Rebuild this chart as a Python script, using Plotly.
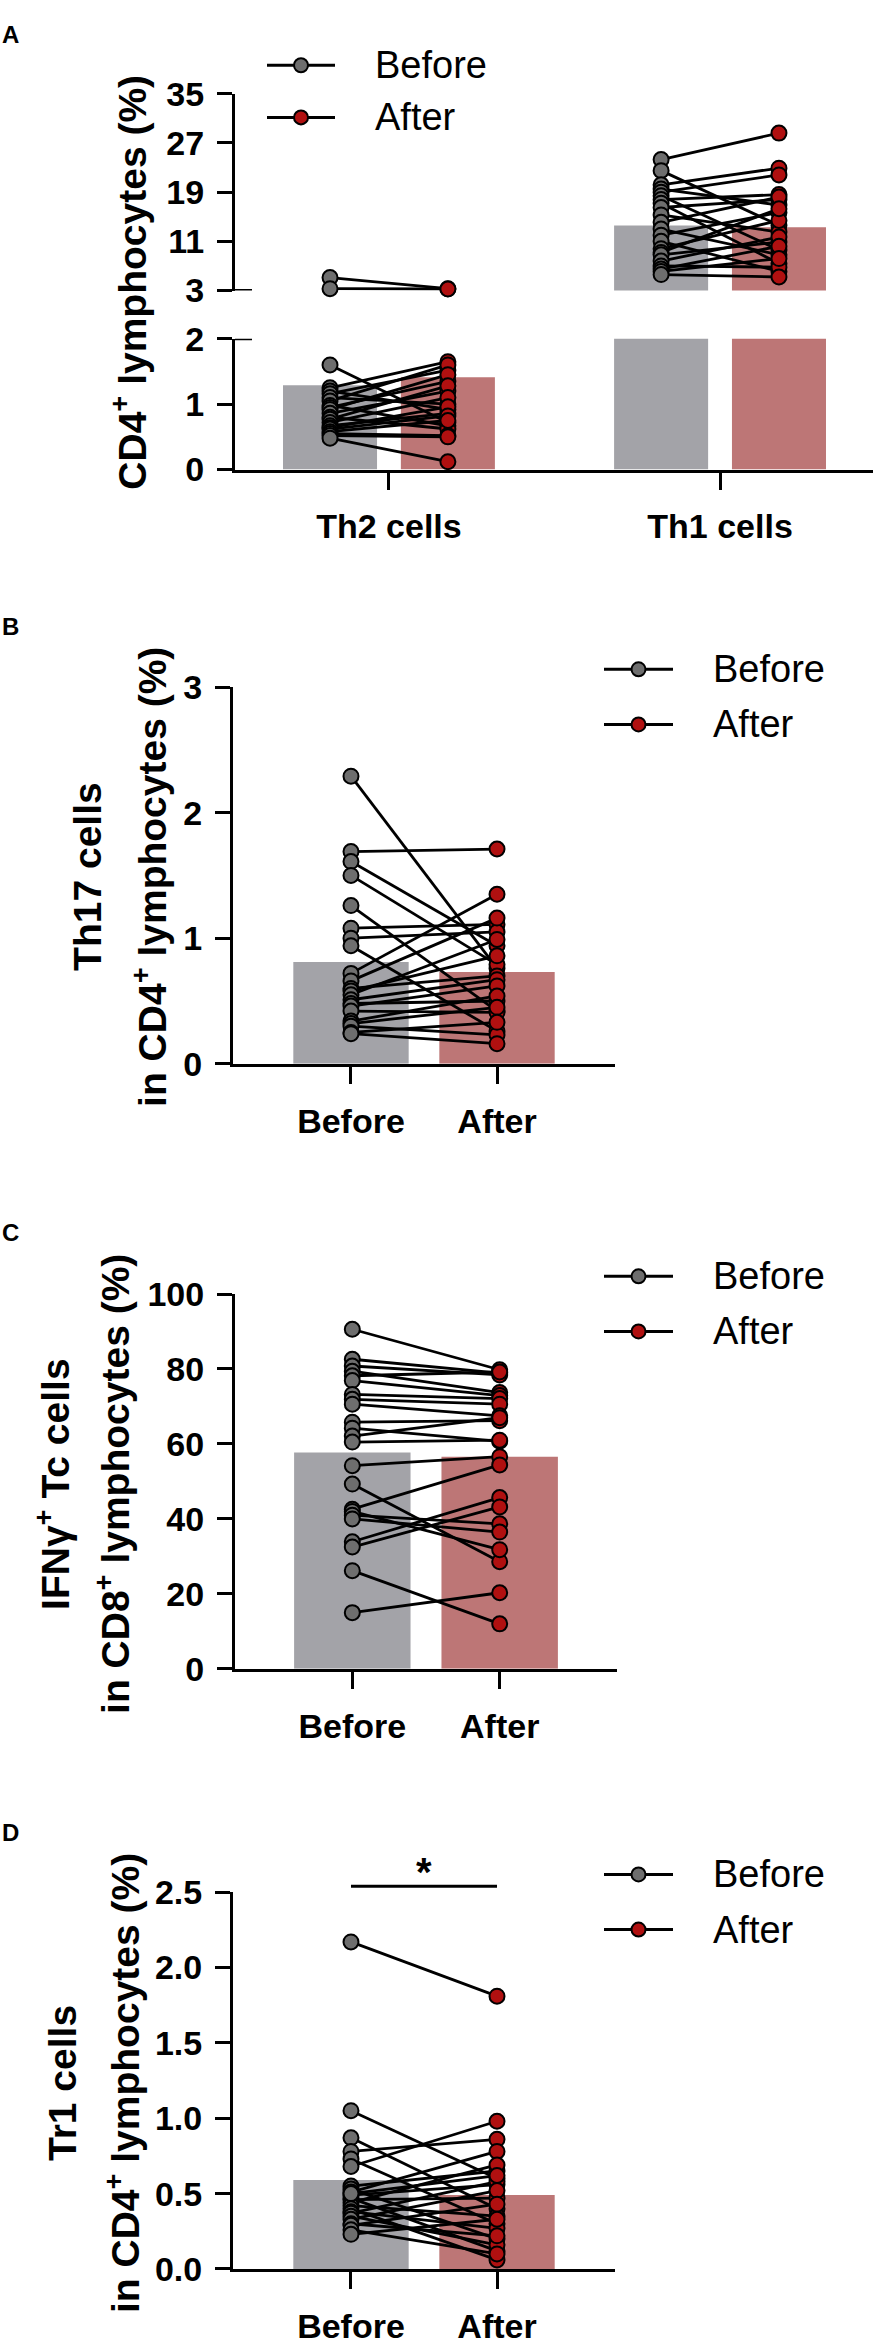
import plotly.graph_objects as go

W, H = 877, 2347
FONT = "Liberation Sans"

# ---- panel A: Th2 / Th1 cells in CD4+ lymphocytes (%) ----
groups_a = ["Th2 cells", "Th1 cells"]
th2_before = [5.1, 3.3, 1.60, 1.25, 1.20, 1.16, 1.10, 1.05, 0.98, 0.95, 0.92,
              0.86, 0.80, 0.77, 0.72, 0.67, 0.64, 0.62, 0.58, 0.55, 0.52, 0.48]
th2_after = [3.3, 3.25, 0.72, 1.65, 0.92, 1.52, 1.00, 1.60, 0.67, 1.35, 1.45,
             1.20, 0.62, 1.28, 1.10, 0.86, 0.96, 0.82, 0.75, 0.52, 0.50, 0.12]
th1_before = [24.3, 22.5, 20.2, 19.5, 19.0, 18.4, 17.8, 17.2, 16.5, 15.3, 14.1,
              13.0, 12.0, 11.0, 9.8, 9.2, 8.8, 7.8, 7.0, 6.5, 6.1, 5.6]
th1_after = [28.6, 13.6, 22.9, 16.9, 21.8, 9.6, 18.6, 7.4, 17.8, 12.5, 18.2,
             8.8, 15.7, 6.1, 14.4, 16.3, 10.9, 11.7, 6.8, 10.2, 8.2, 5.2]
bars_a_before = [1.29, 13.56]
bars_a_after = [1.41, 13.3]

conds = ["Before", "After"]

# ---- panel B: Th17 cells ----
th17_before = [2.29, 1.69, 1.61, 1.50, 1.26, 1.08, 1.00, 0.94, 0.72, 0.66, 0.60,
               0.58, 0.55, 0.51, 0.48, 0.46, 0.42, 0.34, 0.32, 0.30, 0.25, 0.24]
th17_after = [0.76, 1.71, 0.94, 0.79, 0.42, 1.11, 1.05, 0.26, 1.35, 1.16, 0.70,
              0.86, 0.99, 0.67, 0.50, 0.62, 0.41, 0.54, 0.45, 0.23, 0.33, 0.16]
th17_bars = [0.81, 0.73]

# ---- panel C: IFNg+ Tc cells ----
tc_before = [90.6, 82.6, 80.8, 79.4, 78.2, 76.9, 73.2, 71.9, 70.6, 65.8, 64.2, 62.1,
             60.5, 54.2, 49.3, 42.6, 42.0, 41.0, 40.0, 33.9, 32.5, 26.2, 15.0]
tc_after = [79.8, 78.9, 78.4, 73.7, 79.2, 72.9, 72.1, 70.6, 67.5, 66.2, 60.7, 67.0,
            61.0, 56.6, 28.6, 54.4, 31.8, 38.7, 36.5, 45.7, 43.2, 12.0, 20.3]
tc_bars = [57.7, 56.6]

# ---- panel D: Tr1 cells ----
tr1_before = [2.17, 1.05, 0.87, 0.78, 0.73, 0.68, 0.55, 0.53, 0.51, 0.49, 0.47, 0.46,
              0.44, 0.42, 0.40, 0.38, 0.37, 0.35, 0.33, 0.30, 0.29, 0.26, 0.23, 0.50]
tr1_after = [1.81, 0.60, 0.40, 0.86, 0.30, 0.98, 0.65, 0.20, 0.78, 0.56, 0.12, 0.47,
             0.69, 0.35, 0.06, 0.27, 0.58, 0.16, 0.52, 0.22, 0.43, 0.10, 0.33, 0.62]
tr1_bars = [0.59, 0.49]

GREY_BAR = "#a3a3a8"
RED_BAR = "#bd7676"
GREY_DOT = "#6e6e6e"
RED_DOT = "#b01010"


def fx(p):  # pixel -> paper
    return p / W


def fy(p):
    return 1 - p / H


def pair_trace(xb, xa, before, after, xaxis, yaxis):
    xs, ys, cs = [], [], []
    for b, a in zip(before, after):
        xs += [xb, xa, None]
        ys += [b, a, None]
        cs += [GREY_DOT, RED_DOT, GREY_DOT]
    return go.Scatter(x=xs, y=ys, mode="lines+markers", xaxis=xaxis, yaxis=yaxis,
                      line=dict(color="black", width=2.8),
                      marker=dict(size=15, color=cs, line=dict(color="black", width=2)),
                      cliponaxis=False, hoverinfo="skip")


fig = go.Figure()

# panel A (broken axis = two stacked subplots)
off, bw = 0.178, 0.284
for xa, ya in [("x", "y"), ("x2", "y2")]:
    fig.add_bar(x=[i - off for i in range(len(groups_a))], y=bars_a_before, width=bw,
                marker_color=GREY_BAR, marker_line_width=0, xaxis=xa, yaxis=ya)
    fig.add_bar(x=[i + off for i in range(len(groups_a))], y=bars_a_after, width=bw,
                marker_color=RED_BAR, marker_line_width=0, xaxis=xa, yaxis=ya)

for gi, (bef, aft) in enumerate([(th2_before, th2_after), (th1_before, th1_after)]):
    low = [(b, a) for b, a in zip(bef, aft) if max(b, a) <= 2]
    high = [(b, a) for b, a in zip(bef, aft) if max(b, a) > 2]
    for seg, xa, ya in [(low, "x", "y"), (high, "x2", "y2")]:
        if seg:
            fig.add_trace(pair_trace(gi - off, gi + off, [s[0] for s in seg],
                                     [s[1] for s in seg], xa, ya))

# panels B, C, D
for n, bef, aft, bars in [(3, th17_before, th17_after, th17_bars),
                          (4, tc_before, tc_after, tc_bars),
                          (5, tr1_before, tr1_after, tr1_bars)]:
    fig.add_bar(x=conds, y=bars, width=0.79, marker_color=[GREY_BAR, RED_BAR],
                marker_line_width=0, xaxis=f"x{n}", yaxis=f"y{n}")
    fig.add_trace(pair_trace(conds[0], conds[1], bef, aft, f"x{n}", f"y{n}"))

tickfont = dict(family=FONT, size=34, color="black", weight="bold")


def yax(bottom, top, rng, vals, anchor, fmt=None):
    d = dict(domain=[fy(bottom), fy(top)], range=rng, tickvals=vals, anchor=anchor,
             showline=True, linewidth=3, linecolor="black", ticks="outside",
             ticklen=15, tickwidth=3, tickcolor="black", showgrid=False,
             zeroline=False, tickfont=tickfont, ticklabelstandoff=6)
    if fmt:
        d["tickformat"] = fmt
    return d


def xax(left, right, rng, anchor, **kw):
    d = dict(domain=[fx(left), fx(right)], range=rng, anchor=anchor, showline=True,
             linewidth=3, linecolor="black", ticks="outside", ticklen=17,
             tickwidth=3, tickcolor="black", showgrid=False, zeroline=False,
             tickfont=tickfont, ticklabelstandoff=8)
    d.update(kw)
    return d


fig.update_layout(
    width=W, height=H, margin=dict(l=0, r=0, t=0, b=0),
    paper_bgcolor="white", plot_bgcolor="white", showlegend=False,
    xaxis=xax(235, 873, [-0.465, 1.462], "y", tickvals=[0, 1], ticktext=groups_a),
    xaxis2=xax(235, 873, [-0.465, 1.462], "y2", visible=False),
    yaxis=yax(458, 325, [0, 2], [0, 1, 2], "x"),
    yaxis2=yax(276, 76, [3, 35], [3, 11, 19, 27, 35], "x2"),
    xaxis3=xax(233, 615, [-0.808, 1.808], "y3", type="category"),
    yaxis3=yax(1062, 679, [0, 3], [0, 1, 2, 3], "x3"),
    xaxis4=xax(235, 617, [-0.796, 1.796], "y4", type="category"),
    yaxis4=yax(1677, 1296, [0, 100], [0, 20, 40, 60, 80, 100], "x4"),
    xaxis5=xax(233, 615, [-0.808, 1.808], "y5", type="category"),
    yaxis5=yax(2287, 1904, [0, 2.5], [0, 0.5, 1, 1.5, 2, 2.5], "x5", ".1f"),
)

# axis-break caps in panel A
for yref, yv in [("y", 2), ("y2", 3)]:
    fig.add_shape(type="line", xref="paper", yref=yref, x0=fx(235), x1=fx(252),
                  y0=yv, y1=yv, line=dict(color="black", width=3))


def add_key(x0, x1, xt, rows):
    for (label, color), yp in zip([("Before", GREY_DOT), ("After", RED_DOT)], rows):
        fig.add_shape(type="line", xref="paper", yref="paper", x0=fx(x0), x1=fx(x1),
                      y0=fy(yp), y1=fy(yp), line=dict(color="black", width=3))
        fig.add_shape(type="circle", xref="paper", yref="paper", xsizemode="pixel",
                      ysizemode="pixel", xanchor=fx((x0 + x1) / 2), yanchor=fy(yp),
                      x0=-7, x1=7, y0=-7, y1=7, fillcolor=color,
                      line=dict(color="black", width=2))
        fig.add_annotation(text=label, xref="paper", yref="paper", x=fx(xt), y=fy(yp),
                           xanchor="left", yanchor="middle", showarrow=False,
                           font=dict(family=FONT, size=38, color="black"))


add_key(267, 335, 373, [47, 100])
add_key(604, 673, 711, [661, 717])
add_key(604, 673, 711, [1278, 1334])
add_key(604, 673, 711, [1886, 1942])

# panel letters
for letter, yp in [("A", 16), ("B", 618), ("C", 1233), ("D", 1843)]:
    fig.add_annotation(text=f"<b>{letter}</b>", xref="paper", yref="paper", x=0,
                       y=fy(yp), xanchor="left", yanchor="middle", showarrow=False,
                       font=dict(family=FONT, size=24, color="black"))

# y axis titles
titles = [
    ("CD4<sup>+</sup> lymphocytes (%)", 129, 268),
    ("Th17 cells", 88, 872),
    ("in CD4<sup>+</sup> lymphocytes (%)", 150, 872),
    ("IFNγ<sup>+</sup> Tc cells", 53, 1489),
    ("in CD8<sup>+</sup> lymphocytes (%)", 113, 1489),
    ("Tr1 cells", 62, 2098),
    ("in CD4<sup>+</sup> lymphocytes (%)", 122, 2098),
]
for text, xp, yp in titles:
    fig.add_annotation(text=text, xref="paper", yref="paper", x=fx(xp), y=fy(yp),
                       xanchor="center", yanchor="middle", textangle=-90,
                       showarrow=False,
                       font=dict(family=FONT, size=39, color="black", weight="bold"))

# significance bar in panel D
fig.add_shape(type="line", xref="x5", yref="paper", x0=0, x1=1, y0=fy(1898),
              y1=fy(1898), line=dict(color="black", width=3))
fig.add_annotation(text="<b>*</b>", xref="x5", yref="paper", x=0.5, y=fy(1884),
                   xanchor="center", yanchor="middle", showarrow=False,
                   font=dict(family=FONT, size=40, color="black"))

fig.write_html("out.html", config={"displayModeBar": False},
               post_script="document.body.style.margin='0';")
